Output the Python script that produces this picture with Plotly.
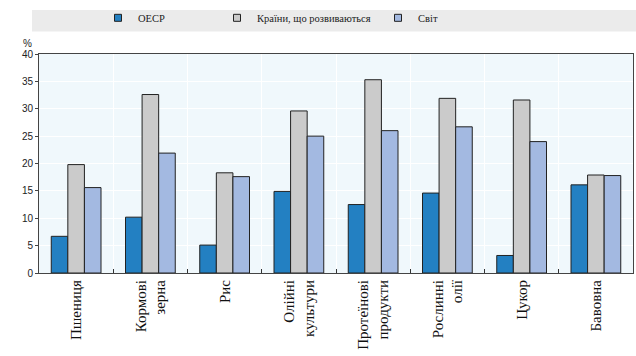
import plotly.graph_objects as go

categories = ["Пшениця", "Кормові<br>зерна", "Рис", "Олійні<br>культури",
              "Протеїнові<br>продукти", "Рослинні<br>олії", "Цукор", "Бавовна"]
oecd = [6.7, 10.2, 5.1, 14.9, 12.5, 14.6, 3.2, 16.1]
developing = [19.8, 32.6, 18.3, 29.6, 35.3, 31.9, 31.6, 17.9]
world = [15.6, 21.9, 17.6, 25.0, 26.0, 26.7, 24.0, 17.8]
series_names = ["OECP", "Країни, що розвиваються", "Світ"]
colors = ["#2380C2", "#CBCBCB", "#A3B9E1"]
y_ticks = [0, 5, 10, 15, 20, 25, 30, 35, 40]

L, R, T, B = 39, 3, 49, 83
W, H = 636, 356
pw = W - L - R
ph = H - T - B

def px_x(px):
    return (px - L) / pw

def px_y(py):
    return (H - B - py) / ph

fig = go.Figure()
for name, vals, col in zip(series_names, [oecd, developing, world], colors):
    fig.add_trace(go.Bar(x=categories, y=vals, name=name, marker_color=col,
                         marker_line_color="#222222", marker_line_width=1,
                         showlegend=False))

legend_names = ["legend", "legend2", "legend3"]
legend_text_x = [136, 255, 416]
for name, col, lg in zip(series_names, colors, legend_names):
    fig.add_trace(go.Scatter(x=[None], y=[None], mode="markers", name=name,
                             marker=dict(symbol="square", size=7, color=col,
                                         line=dict(color="#222222", width=1)),
                             legend=lg, showlegend=True))

legend_font = dict(family="Liberation Serif, Times New Roman, serif", size=10.5, color="#222222")
layout_legends = {}
for lg, tx in zip(legend_names, legend_text_x):
    layout_legends[lg] = dict(x=px_x(tx - 38), y=px_y(12), xanchor="left", yanchor="middle",
                              bgcolor="rgba(0,0,0,0)", font=legend_font, itemwidth=30,
                              orientation="h")

fig.add_shape(type="rect", xref="paper", yref="paper",
              x0=px_x(32), x1=px_x(636), y0=px_y(26), y1=px_y(4),
              fillcolor="#EBEBEB", line=dict(width=0), layer="below")

fig.add_annotation(text="%", xref="paper", yref="paper", x=px_x(27), y=px_y(38),
                   showarrow=False, xanchor="center", yanchor="middle",
                   font=dict(family="Liberation Sans Narrow, Liberation Sans, Arial", size=10, color="#222222"))

fig.update_layout(
    width=W, height=H,
    margin=dict(l=L, r=R, t=T, b=B),
    paper_bgcolor="white",
    plot_bgcolor="#F0F8FC",
    barmode="group",
    bargap=0.33,
    bargroupgap=0,
    **layout_legends,
)
fig.update_xaxes(
    tickangle=-90,
    tickfont=dict(family="Liberation Serif, Times New Roman, serif", size=15, color="#111111"),
    tickson="boundaries", ticks="inside", ticklen=4, tickcolor="#333333",
    showline=True, linecolor="#444444", linewidth=1, mirror=True,
    showgrid=True, gridcolor="white", gridwidth=1,
)
fig.update_yaxes(
    range=[0, 40], tickvals=y_ticks,
    tickfont=dict(family="Liberation Sans Narrow, Liberation Sans, Arial", size=10, color="#222222"),
    ticks="outside", ticklen=3, tickcolor="#444444",
    showline=True, linecolor="#444444", linewidth=1, mirror=True,
    showgrid=True, gridcolor="white", gridwidth=1, zeroline=False,
)

fig.write_html("out.html")
